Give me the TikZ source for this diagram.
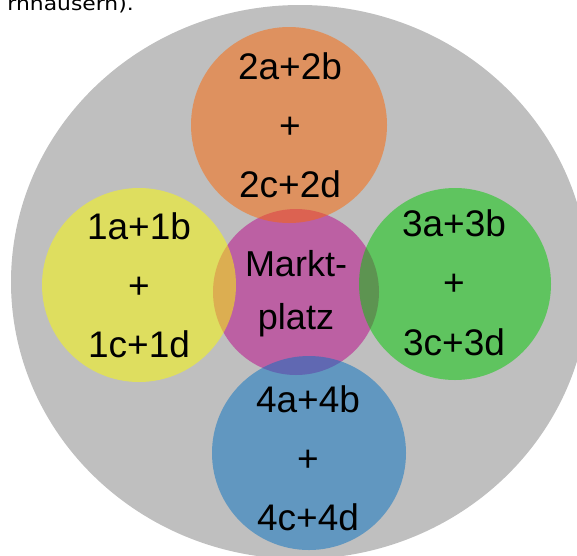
\documentclass[tikz,border=0pt]{standalone}
\usepackage{fontspec}
\setmainfont{Liberation Sans}
\newfontfamily\topfont{DejaVu Sans}
\definecolor{bggray}{RGB}{191,191,191}
\definecolor{corange}{RGB}{253,101,1}
\definecolor{cyellow}{RGB}{253,253,0}
\definecolor{cgreen}{RGB}{0,201,0}
\definecolor{cblue}{RGB}{5,113,193}
\definecolor{cpink}{RGB}{188,96,163}
\begin{document}
\begin{tikzpicture}[x=1pt,y=-1pt,
  zone/.style={circle,inner sep=0pt,draw=none,fill opacity=0.5},
  lbl/.style={anchor=base,inner sep=0pt,font=\fontsize{37}{44}\selectfont,text=black}]
\useasboundingbox (0,0) rectangle (577,555);
\begin{scope}
\clip (0,0) rectangle (577,555);
\fill[bggray] (300,282) ellipse [x radius=289pt, y radius=277pt];
\node[anchor=base east,inner sep=0pt,xscale=1.15,font=\topfont\fontsize{19}{22}\selectfont] (top) at (134,10) {rnhäusern).};
\end{scope}
% central market place
\node[circle,inner sep=0pt,fill=cpink,minimum size=166pt] (markt) at (296,292) {};
% surrounding districts
\node[zone,fill=corange,minimum size=196pt] (d2) at (289,125) {};
\node[zone,fill=cyellow,minimum size=194pt] (d1) at (139,285) {};
\node[zone,fill=cgreen,minimum size=192pt] (d3) at (455,284) {};
\node[zone,fill=cblue,minimum size=194pt] (d4) at (309,453) {};
% labels
\node[lbl] (t2a) at (290,79) {2a+2b};
\node[lbl] (t2p) at (290,138) {+};
\node[lbl] (t2c) at (290,197) {2c+2d};
\node[lbl] (t1a) at (139,239) {1a+1b};
\node[lbl] (t1p) at (139,298) {+};
\node[lbl] (t1c) at (139,357) {1c+1d};
\node[lbl] (t3a) at (454,236) {3a+3b};
\node[lbl] (t3p) at (454,295) {+};
\node[lbl] (t3c) at (454,355) {3c+3d};
\node[lbl] (t4a) at (308,412) {4a+4b};
\node[lbl] (t4p) at (308,471) {+};
\node[lbl] (t4c) at (308,530) {4c+4d};
\node[lbl,font=\fontsize{36}{44}\selectfont] (m1) at (296,276) {Markt-};
\node[lbl,font=\fontsize{36}{44}\selectfont] (m2) at (296,329) {platz};
\end{tikzpicture}
\end{document}
